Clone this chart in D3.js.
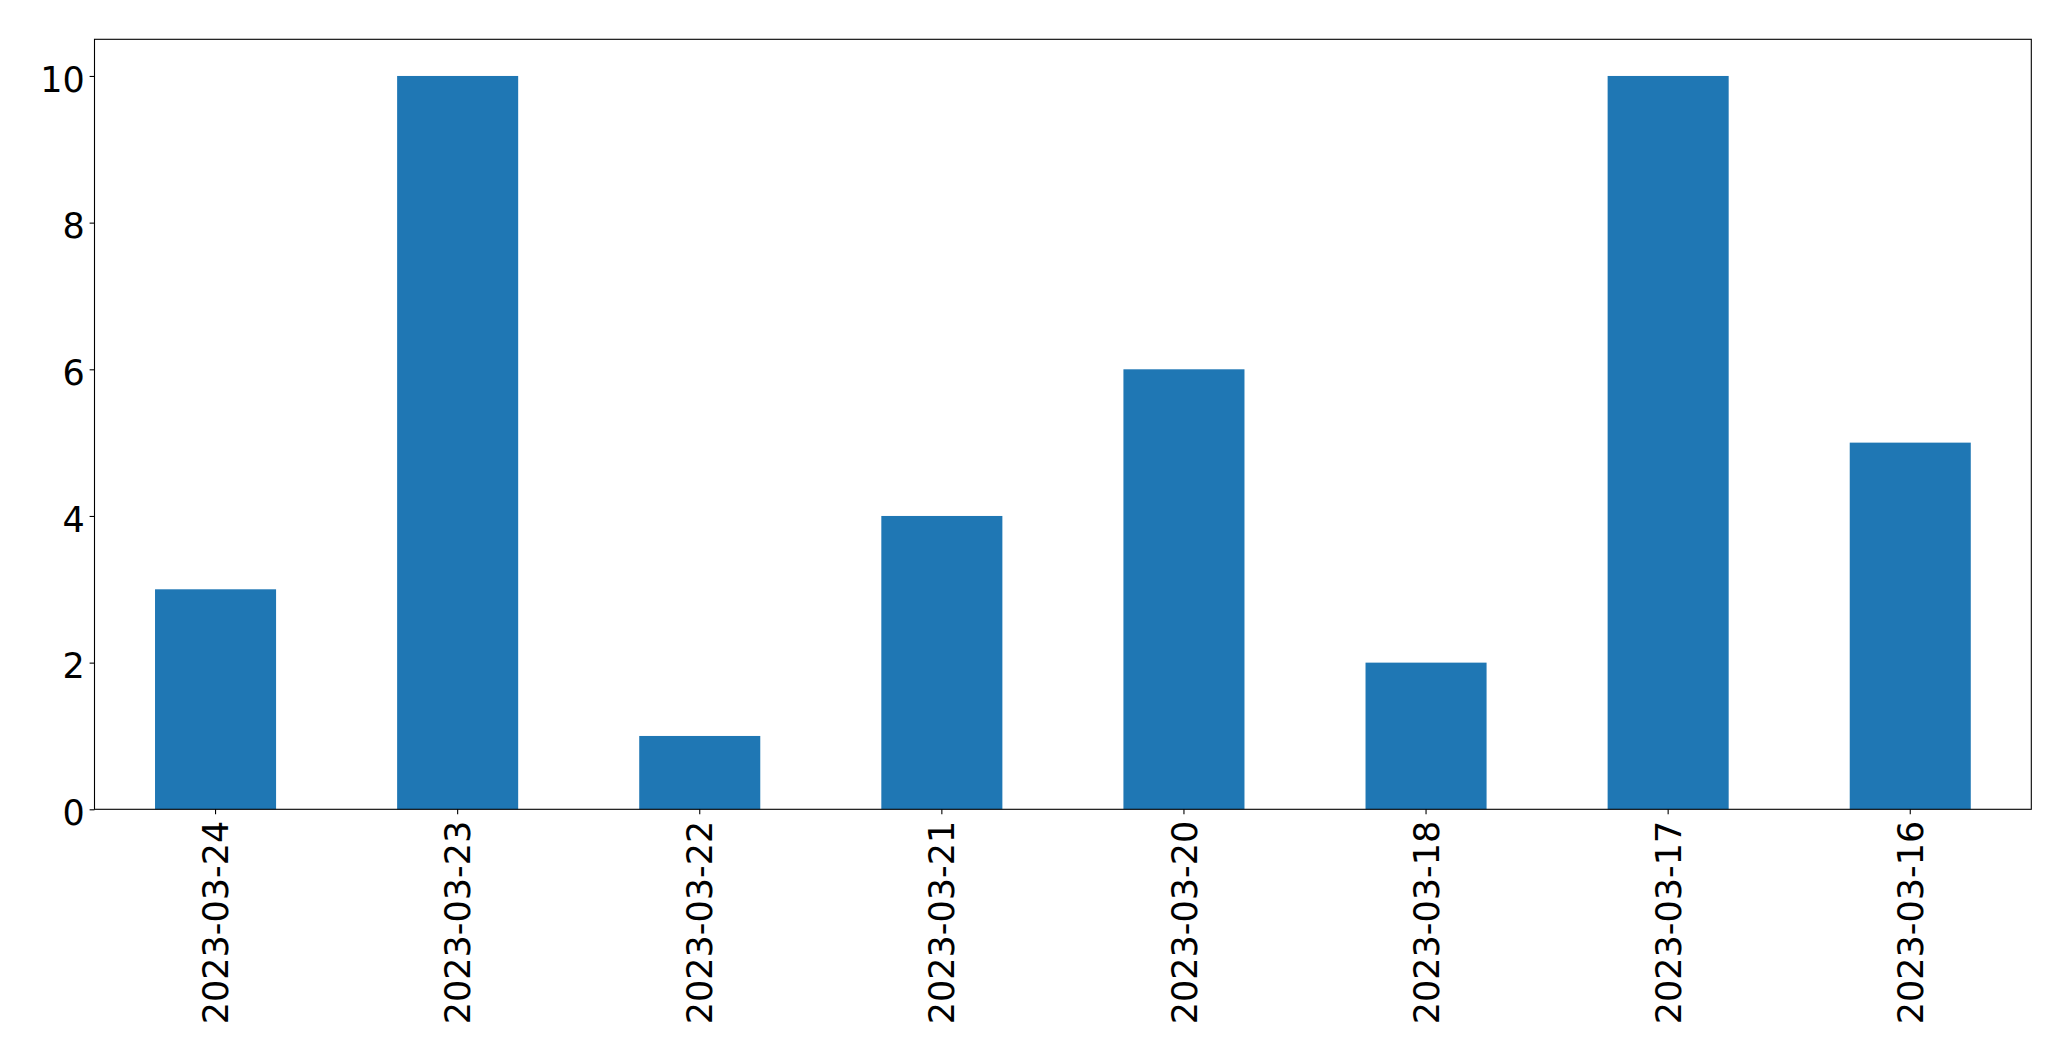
<!DOCTYPE html>
<html>
<head>
<meta charset="utf-8">
<script src="https://cdn.jsdelivr.net/npm/d3@7"></script>
<style>
  html, body { margin: 0; padding: 0; background: #fff; }
  svg { display: block; }
</style>
</head>
<body>
<svg id="chart" width="2071" height="1061"></svg>
<script>
const categories = ["2023-03-24", "2023-03-23", "2023-03-22", "2023-03-21", "2023-03-20", "2023-03-18", "2023-03-17", "2023-03-16"];
const values = [3, 10, 1, 4, 6, 2, 10, 5];
const yTicks = [0, 2, 4, 6, 8, 10];

const W = 2071, H = 1061;
const margin = { left: 94.5, right: W - 2031.3, top: 39.3, bottom: H - 809.3 };
const svg = d3.select("#chart");
const g = svg.append("g").attr("transform", `translate(${margin.left},${margin.top})`);
const iw = W - margin.left - margin.right;
const ih = H - margin.top - margin.bottom;

const x = d3.scaleBand().domain(categories).range([0, iw]).paddingInner(0.5).paddingOuter(0.25);
const y = d3.scaleLinear().domain([0, 10.5]).range([ih, 0]);

g.selectAll("rect.bar").data(values).enter().append("rect")
  .attr("class", "bar")
  .attr("x", (d, i) => x(categories[i]))
  .attr("width", x.bandwidth())
  .attr("y", d => y(d))
  .attr("height", d => y(0) - y(d))
  .attr("fill", "#1f77b4");

const fontFamily = "'DejaVu Sans', sans-serif";
const fs = 35;

const yAxis = g.append("g").call(d3.axisLeft(y).tickValues(yTicks).tickFormat(d3.format("d")).tickSize(4.9).tickPadding(4.9));
yAxis.select(".domain").remove();
yAxis.selectAll(".tick line").attr("stroke", "#000").attr("stroke-width", 1.1);
yAxis.selectAll(".tick text").attr("font-family", fontFamily).attr("font-size", fs).attr("fill", "#000").attr("dy", "0.43em");

const xAxis = g.append("g").attr("transform", `translate(0,${ih})`)
  .call(d3.axisBottom(x).tickSize(4.9).tickPadding(4.9));
xAxis.select(".domain").remove();
xAxis.selectAll(".tick line").attr("stroke", "#000").attr("stroke-width", 1.1);
xAxis.selectAll(".tick text")
  .attr("font-family", fontFamily).attr("font-size", fs).attr("fill", "#000")
  .attr("text-anchor", "end")
  .attr("transform", "translate(0,11.5) rotate(-90)")
  .attr("x", 0).attr("y", 0).attr("dy", "0.36em");

g.append("rect").attr("x", 0).attr("y", 0).attr("width", iw).attr("height", ih)
  .attr("fill", "none").attr("stroke", "#000").attr("stroke-width", 1.1);
</script>
</body>
</html>
